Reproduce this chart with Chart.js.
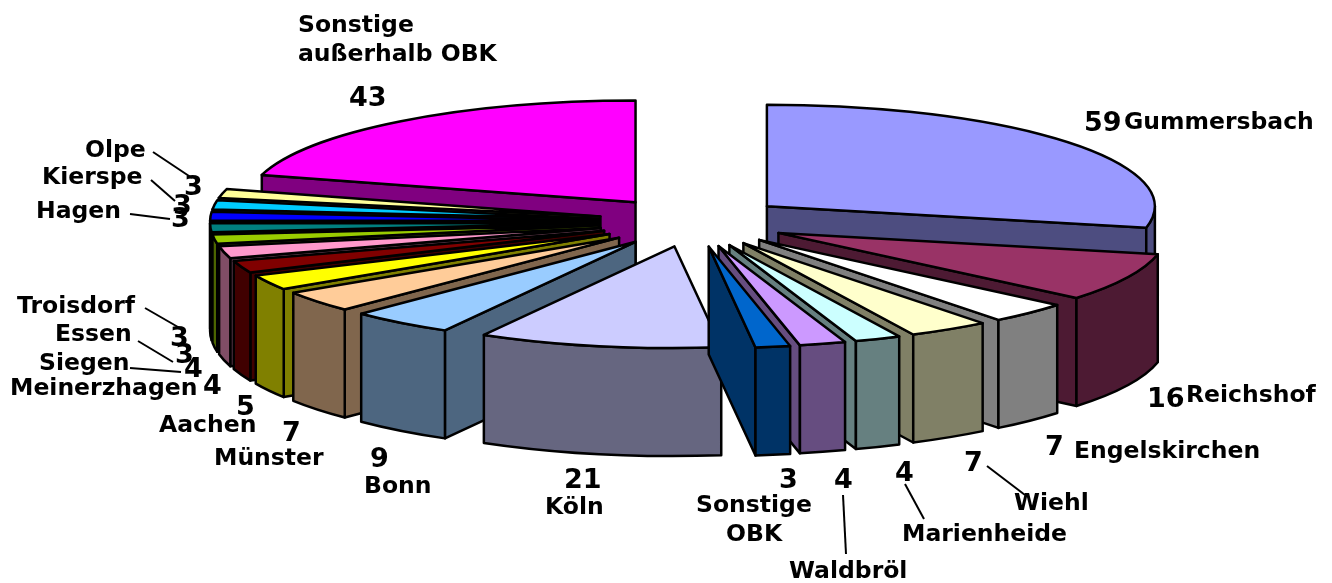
<!DOCTYPE html>
<html><head><meta charset="utf-8">
<style>html,body{margin:0;padding:0;background:#fff}canvas{display:block}</style>
<script src="https://cdn.jsdelivr.net/npm/chart.js@4"></script>
</head><body>
<canvas id="c" width="1332" height="583"></canvas>
<script>
const categories = ["Gummersbach","Reichshof","Engelskirchen","Wiehl","Marienheide","Waldbröl","Sonstige OBK","Köln","Bonn","Münster","Aachen","Meinerzhagen","Siegen","Essen","Troisdorf","Hagen","Kierspe","Olpe","Sonstige außerhalb OBK"];
const values = [59,16,7,7,4,4,3,21,9,7,5,4,4,3,3,3,3,3,43];
const topColors = ["#9999FF","#993366","#FFFFFF","#FFFFCC","#CCFFFF","#CC99FF","#0066CC","#CCCCFF","#99CCFF","#FFCC99","#FFFF00","#800000","#FF99CC","#99CC00","#008080","#0000FF","#00CCFF","#FFFF99","#FF00FF"];
const wallColors = ["#4D4D80","#4D1A33","#808080","#808066","#668080","#664D80","#003366","#666680","#4D6680","#80664D","#808000","#400000","#804D66","#4D6600","#004040","#000080","#006680","#80804D","#800080"];

// Text and leader-line layout (not data)
const FONT = '"DejaVu Sans"';
const nameSize = 23.5, numSize = 27;
const nameLabels = [
 ["Sonstige",298,32],["außerhalb OBK",298,61],["Gummersbach",1124,129],["Reichshof",1186,402],
 ["Engelskirchen",1074,458],["Wiehl",1014,510],["Marienheide",902,541],["Waldbröl",789,578],
 ["Sonstige",696,512],["OBK",726,541],["Köln",545,514],["Bonn",364,493],["Münster",214,465],
 ["Aachen",159,432],["Meinerzhagen",10,395],["Siegen",39,370],["Essen",55,341],["Troisdorf",17,313],
 ["Hagen",36,218],["Kierspe",42,184],["Olpe",85,157]];
const numberPositions = [[1084,131],[1147,407],[1045,455],[964,471],[895,481],[834,488],[779,488],[564,488],[370,467],[282,441],[236,415],[203,394],[184,377],[175,363],[170,346],[171,227],[173,214],[184,195],[349,106]];
const leaders = [[153,152,192,178],[151,180,175,201],[130,214,170,219],[145,308,178,327],[138,341,173,362],[130,368,181,372],[843,495,846,554],[905,484,924,519],[987,466,1025,495]];

const TILT = 0.262, EXPLODE = 95, DEPTH = 108;

const pie3d = {
  id: 'pie3d',
  beforeDatasetDraw(chart, args) {
    const ctx = chart.ctx, arcs = args.meta.data;
    const order = arcs.map((a,i)=>i).sort((p,q)=>{
      const mp=(arcs[p].startAngle+arcs[p].endAngle)/2, mq=(arcs[q].startAngle+arcs[q].endAngle)/2;
      return Math.sin(mp)-Math.sin(mq);
    });
    for (const i of order) {
      const a = arcs[i], s=a.startAngle, e=a.endAngle, R=a.outerRadius;
      const mid=(s+e)/2;
      const cx=a.x+Math.cos(mid)*EXPLODE, cy=a.y+Math.sin(mid)*EXPLODE*TILT;
      const px=t=>cx+Math.cos(t)*R, py=t=>cy+Math.sin(t)*R*TILT;
      ctx.save();
      ctx.lineWidth=2.5; ctx.lineJoin='round'; ctx.strokeStyle='#000'; ctx.fillStyle=wallColors[i];
      const quad=t=>{ctx.beginPath();ctx.moveTo(cx,cy);ctx.lineTo(px(t),py(t));ctx.lineTo(px(t),py(t)+DEPTH);ctx.lineTo(cx,cy+DEPTH);ctx.closePath();ctx.fill();ctx.stroke();};
      // radial walls facing the viewer
      if (Math.cos(s) < 0) quad(s);
      if (Math.cos(e) > 0) quad(e);
      // outer wall on the front half
      for (const off of [0, 2*Math.PI]) {
        const a1=Math.max(s,off), a2=Math.min(e,off+Math.PI);
        if (a2>a1) {
          ctx.beginPath();
          ctx.ellipse(cx,cy,R,R*TILT,0,a1,a2,false);
          ctx.ellipse(cx,cy+DEPTH,R,R*TILT,0,a2,a1,true);
          ctx.closePath();ctx.fill();ctx.stroke();
        }
      }
      // top face: the library's own arc, squashed and moved out
      ctx.save();
      ctx.translate(cx,cy); ctx.scale(1,TILT); ctx.translate(-a.x,-a.y);
      a.draw(ctx);
      ctx.restore();
      ctx.beginPath();ctx.moveTo(cx,cy);ctx.ellipse(cx,cy,R,R*TILT,0,s,e,false);ctx.closePath();ctx.stroke();
      ctx.restore();
    }
    return false;
  },
  afterDraw(chart) {
    const ctx = chart.ctx;
    ctx.save();
    ctx.strokeStyle='#000';ctx.lineWidth=2;
    for (const [x1,y1,x2,y2] of leaders){ctx.beginPath();ctx.moveTo(x1,y1);ctx.lineTo(x2,y2);ctx.stroke();}
    ctx.fillStyle='#000';ctx.textAlign='left';ctx.textBaseline='alphabetic';
    ctx.font='bold '+nameSize+'px '+FONT;
    for (const [t,x,y] of nameLabels) ctx.fillText(t,x,y);
    ctx.font='bold '+numSize+'px '+FONT;
    values.forEach((v,i)=>ctx.fillText(String(v),numberPositions[i][0],numberPositions[i][1]));
    ctx.restore();
  }
};

new Chart(document.getElementById('c'),{
  type:'pie',
  data:{labels:categories,datasets:[{data:values,backgroundColor:topColors,borderWidth:0,radius:388}]},
  options:{responsive:false,animation:false,
    layout:{padding:{left:54,right:0,top:0,bottom:139}},
    plugins:{legend:{display:false},tooltip:{enabled:false}}},
  plugins:[pie3d]
});
</script>
</body></html>
